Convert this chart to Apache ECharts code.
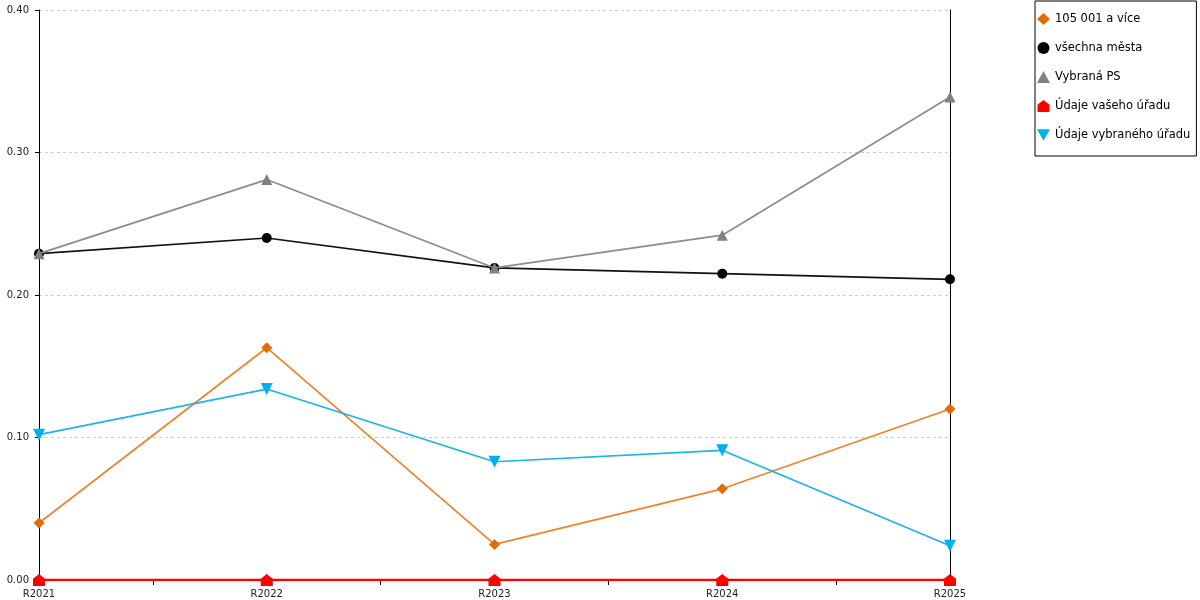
<!DOCTYPE html>
<html>
<head>
<meta charset="utf-8">
<script src="https://cdn.jsdelivr.net/npm/echarts@6/dist/echarts.min.js"></script>
<style>
html,body{margin:0;padding:0;background:#fff;}
#chart{width:1200px;height:600px;}
</style>
</head>
<body>
<div id="chart"></div>
<script>
const categories = ['R2021', 'R2022', 'R2023', 'R2024', 'R2025'];
const yTicks = [0, 0.1, 0.2, 0.3, 0.4];
const seriesNames = ['105 001 a více', 'všechna města', 'Vybraná PS', 'Údaje vašeho úřadu', 'Údaje vybraného úřadu'];
const vals105 = [0.040, 0.163, 0.025, 0.064, 0.120];
const valsAll = [0.229, 0.240, 0.219, 0.215, 0.211];
const valsPS = [0.229, 0.281, 0.219, 0.242, 0.339];
const valsYour = [0, 0, 0, 0, 0];
const valsSel = [0.102, 0.134, 0.083, 0.091, 0.024];

const FONT = 'DejaVu Sans';
const house = 'path://M0,4 L5,0 L10,4 L10,10 L0,10 Z';
const invTri = 'path://M0,0 L10,0 L5,9 Z';

const chart = echarts.init(document.getElementById('chart'), null, {renderer: 'canvas'});
function lineSeries(name, data, lineColor, markColor, symbol, size, z) {
  return {
    name: name, type: 'line', data: data, symbol: symbol, symbolSize: size,
    showSymbol: true, animation: false, z: z,
    lineStyle: {color: lineColor, width: 1.7},
    itemStyle: {color: markColor, borderWidth: 0},
    emphasis: {disabled: true}
  };
}
chart.setOption({
  animation: false,
  textStyle: {fontFamily: FONT},
  grid: {left: 39, right: 250, top: 10, bottom: 20, containLabel: false},
  legend: {
    orient: 'vertical', left: 1035, top: 1,
    padding: [12, 6, 15, 2],
    itemGap: 17, itemWidth: 13, itemHeight: 12,
    borderColor: '#000', borderWidth: 1,
    textStyle: {fontFamily: FONT, fontSize: 11.5, color: '#000'},
    data: [
      {name: seriesNames[0], icon: 'diamond', itemStyle: {color: '#e36c09'}},
      {name: seriesNames[1], icon: 'circle', itemStyle: {color: '#000'}},
      {name: seriesNames[2], icon: 'triangle', itemStyle: {color: '#808080'}},
      {name: seriesNames[3], icon: house, itemStyle: {color: '#ff0000'}},
      {name: seriesNames[4], icon: invTri, itemStyle: {color: '#00b0f0'}}
    ]
  },
  xAxis: [{
    type: 'category', data: categories, boundaryGap: false,
    axisLine: {lineStyle: {color: '#000', width: 1}},
    axisTick: {show: false},
    axisLabel: {fontFamily: FONT, fontSize: 10, color: '#222', margin: 9},
    splitLine: {show: false}
  }, {
    type: 'value', min: 0, max: 8, interval: 1, position: 'bottom',
    axisLine: {show: false},
    axisTick: {show: true, length: 5, lineStyle: {color: '#000'}},
    axisLabel: {show: false}, splitLine: {show: false}
  }],
  yAxis: [{
    type: 'value', min: yTicks[0], max: yTicks[yTicks.length - 1], interval: 0.1,
    axisLine: {show: true, lineStyle: {color: '#000', width: 1}},
    axisTick: {show: true, length: 4, lineStyle: {color: '#000'}},
    axisLabel: {fontFamily: FONT, fontSize: 10, color: '#222', margin: 10,
      formatter: v => v.toFixed(2)},
    splitLine: {show: true, lineStyle: {color: '#cccccc', type: [3, 3], width: 1}}
  }, {
    type: 'value', min: 0, max: 0.4, position: 'right',
    axisLine: {show: true, lineStyle: {color: '#000', width: 1}},
    axisTick: {show: false}, axisLabel: {show: false}, splitLine: {show: false}
  }],
  series: [
    lineSeries(seriesNames[0], vals105, '#f0822f', '#e36c09', 'diamond', 11, 3),
    lineSeries(seriesNames[1], valsAll, '#111', '#000', 'circle', 10, 4),
    lineSeries(seriesNames[2], valsPS, '#8c8c8c', '#808080', 'triangle', 11, 5),
    Object.assign(lineSeries(seriesNames[3], valsYour, '#ff0000', '#ff0000', house, 12, 6), {lineStyle: {color: '#ff0000', width: 2.5}}),
    lineSeries(seriesNames[4], valsSel, '#1bb4ec', '#00b0f0', invTri, 12, 3)
  ]
});
</script>
</body>
</html>
